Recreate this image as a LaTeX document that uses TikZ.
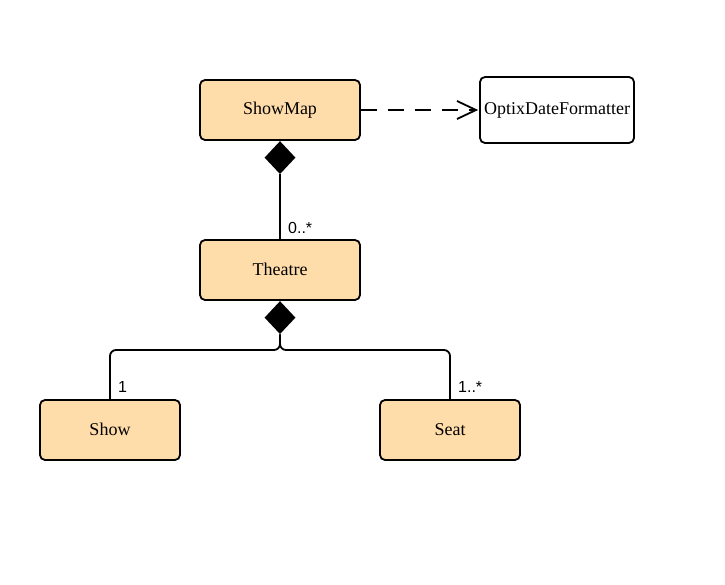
\documentclass[tikz,border=0pt]{standalone}
\usepackage{fontspec}
\setmainfont{Liberation Serif}
\newfontfamily\labfont{Liberation Sans}
\usetikzlibrary{arrows.meta,shapes.geometric}
\definecolor{boxfill}{RGB}{255,221,170}
\begin{document}
\begin{tikzpicture}[x=1pt,y=-1pt,
  cls/.style={draw=black,line width=1.8pt,rounded corners=5pt,fill=boxfill,minimum width=160pt,minimum height=60pt,inner sep=0pt,font=\fontsize{18}{21}\selectfont},
  wcls/.style={cls,fill=white},
  conn/.style={draw=black,line width=1.8pt},
  dia/.style={diamond,fill=black,draw=none,minimum width=31pt,minimum height=33pt,inner sep=0pt},
  mult/.style={font=\labfont\fontsize{16}{19}\selectfont,inner sep=0pt}]
\useasboundingbox (0,0) rectangle (725,584);
\node[cls] (showmap) at (280,110) {\raisebox{1pt}{ShowMap}};
\node[wcls,minimum width=154pt,minimum height=66pt] (optix) at (557,110) {\raisebox{1pt}{OptixDateFormatter}};
\node[cls] (theatre) at (280,270) {\raisebox{1pt}{Theatre}};
\node[cls,minimum width=140pt] (show) at (110,430) {\raisebox{1pt}{Show}};
\node[cls,minimum width=140pt] (seat) at (450,430) {\raisebox{1pt}{Seat}};
\node[dia,anchor=north] (d1) at (showmap.south) {};
\node[dia,anchor=north] (d2) at (theatre.south) {};
\draw[conn,dash pattern=on 16pt off 11pt,shorten >=1pt,-{Straight Barb[length=19pt,width=18pt,line width=1.8pt]}] (showmap.east) -- (optix.west);
\draw[conn] (d1.south) -- (theatre.north);
\coordinate (j) at (280,350);
\draw[conn,rounded corners=6pt] (d2.south) -- (j) -| (show.north);
\draw[conn,rounded corners=6pt] (d2.south) -- (j) -| (seat.north);
\node[mult,anchor=south west] (m1) at (288,234) {0..*};
\node[mult,anchor=south west] (m2) at (118,393) {1};
\node[mult,anchor=south west] (m3) at (458,393) {1..*};
\end{tikzpicture}
\end{document}
